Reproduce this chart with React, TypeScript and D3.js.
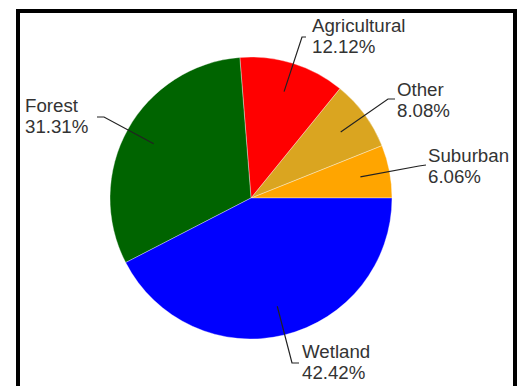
import React from "react";
import * as d3 from "d3";

const categories = ["Suburban", "Other", "Agricultural", "Forest", "Wetland"];
const values = [6, 8, 12, 31, 42];
const percentLabels = ["6.06%", "8.08%", "12.12%", "31.31%", "42.42%"];
const colors = ["#FFA500", "#DAA520", "#FF0000", "#006400", "#0000FF"];

// layout for labels: text anchor position and leader elbow/end points
const labelLayout = [
  { tx: 428, ty: 162, elbow: [419, 166], end: [426, 165] },
  { tx: 397, ty: 96, elbow: [388, 99], end: [395, 99] },
  { tx: 312, ty: 32, elbow: [302, 37], end: [306, 37] },
  { tx: 25, ty: 112, elbow: [104, 117], end: [97, 117] },
  { tx: 302, ty: 358, elbow: [292, 363], end: [299, 363] },
];

const W = 519;
const H = 386;
const cx = 251;
const cy = 198;
const R = 141;

export default function App() {
  const total = d3.sum(values);
  // angles: start at 3 o'clock going counter-clockwise
  const pie = d3
    .pie<number>()
    .sort(null)
    .startAngle(Math.PI / 2)
    .endAngle(Math.PI / 2 - 2 * Math.PI)
    .value((d) => d);
  const arcs = pie(values);
  const arcGen = d3.arc<d3.PieArcDatum<number>>().innerRadius(0).outerRadius(R);
  const innerArc = d3
    .arc<d3.PieArcDatum<number>>()
    .innerRadius(R * 0.79)
    .outerRadius(R * 0.79);

  return (
    <svg
      width={W}
      height={H}
      style={{ position: "absolute", left: 0, top: 0, background: "#fff" }}
    >
      <rect x={0} y={0} width={W} height={H} fill="#fff" />
      <rect x={18} y={11} width={497} height={420} fill="#fff" stroke="#000" strokeWidth={4} />
      <g transform={`translate(${cx},${cy})`}>
        {arcs.map((a, i) => (
          <path key={categories[i]} d={arcGen(a) || ""} fill={colors[i]} stroke="#fff" strokeOpacity={0.5} strokeWidth={0.7} />
        ))}
      </g>
      {arcs.map((a, i) => {
        const [ix, iy] = innerArc.centroid(a);
        const L = labelLayout[i];
        return (
          <polyline
            key={"l" + i}
            points={`${cx + ix},${cy + iy} ${L.elbow[0]},${L.elbow[1]} ${L.end[0]},${L.end[1]}`}
            fill="none"
            stroke="#222"
            strokeWidth={1.2}
          />
        );
      })}
      {categories.map((c, i) => {
        const L = labelLayout[i];
        return (
          <text
            key={"t" + c}
            x={L.tx}
            y={L.ty}
            fontFamily="'Liberation Sans', Arial, sans-serif"
            fontSize={18.7}
            fill="#333"
          >
            <tspan x={L.tx}>{c}</tspan>
            <tspan x={L.tx} dy={21}>
              {percentLabels[i]}
            </tspan>
          </text>
        );
      })}
      <desc>{`total ${total}`}</desc>
    </svg>
  );
}
